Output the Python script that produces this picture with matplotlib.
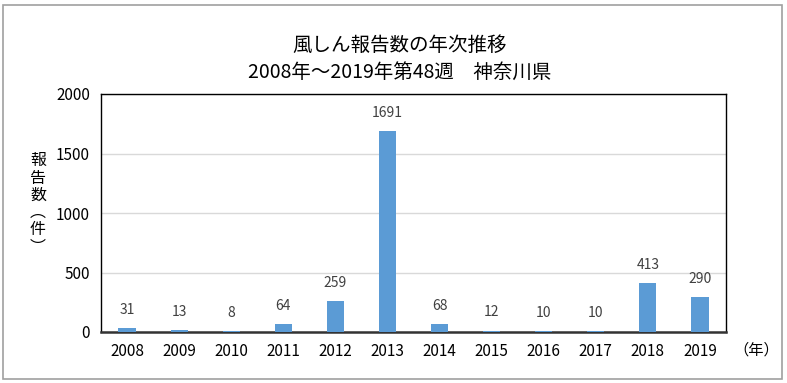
import matplotlib
matplotlib.use("Agg")
import matplotlib.pyplot as plt
from matplotlib.patches import Rectangle

plt.rcParams['font.family'] = ['Noto Sans CJK JP', 'DejaVu Sans']

years = ["2008", "2009", "2010", "2011", "2012", "2013", "2014", "2015", "2016", "2017", "2018", "2019"]
counts = [31, 13, 8, 64, 259, 1691, 68, 12, 10, 10, 413, 290]
yticks = [0, 500, 1000, 1500, 2000]
title = "風しん報告数の年次推移\n2008年～2019年第48週　神奈川県"

W, H = 787, 383
fig = plt.figure(figsize=(W / 100, H / 100), dpi=100)
fig.patch.set_facecolor('white')
fig.patches.append(Rectangle((3 / W, 4 / H), 779 / W, 374 / H, transform=fig.transFigure,
                             fill=False, edgecolor='#a0a0a0', linewidth=1.2))

left, right, top, bottom = 101, 726, 94, 332
ax = fig.add_axes([left / W, 1 - bottom / H, (right - left) / W, (bottom - top) / H])
x = list(range(len(years)))
ax.bar(x, counts, width=0.33, color='#5b9bd5', zorder=3)
ax.set_xlim(-0.5, len(years) - 0.5)
ax.set_ylim(0, 2000)
ax.set_yticks(yticks)
ax.set_yticklabels([str(v) for v in yticks], fontsize=11)
ax.set_xticks(x)
ax.set_xticklabels(years, fontsize=11)
ax.tick_params(length=0, pad=8)
ax.grid(axis='y', color='#d9d9d9', linewidth=1, zorder=0)
for s in ax.spines.values():
    s.set_color('black')
    s.set_linewidth(1.0)
ax.spines['bottom'].set_linewidth(1.8)
ax.spines['bottom'].set_color('#333333')

for xi, v in zip(x, counts):
    ax.annotate(str(v), (xi, v), xytext=(0, 8), textcoords='offset points',
                ha='center', va='bottom', fontsize=10, color='#404040')

fig.text(400 / W, 1 - 59 / H, title, ha='center', va='center', fontsize=14, linespacing=1.4)

ylab = "報告数︵件︶"
fig.text(38 / W, 1 - 204 / H, "\n".join(ylab), ha='center', va='center', fontsize=11.5,
         linespacing=1.02)
fig.text(756 / W, 1 - 350 / H, "（年）", ha='center', va='center', fontsize=11)

fig.savefig("out.png", dpi=100)
